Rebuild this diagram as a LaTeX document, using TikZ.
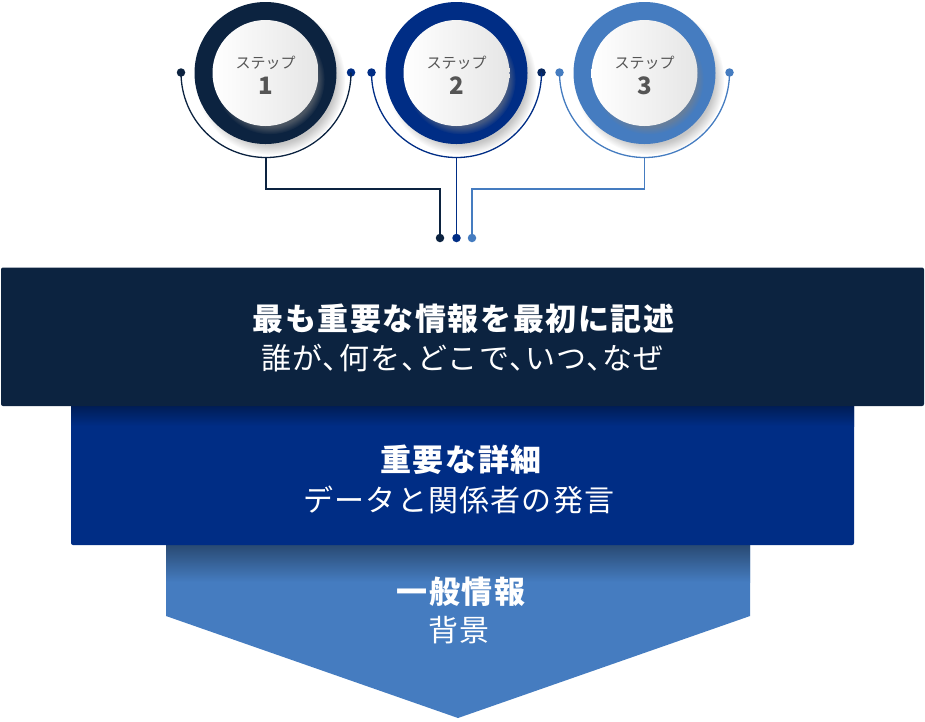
\documentclass[tikz,border=0pt]{standalone}
\usepackage{fontspec}
\setmainfont{Noto Sans CJK JP}
\usetikzlibrary{shadows}
\definecolor{navy}{HTML}{0C2340}
\definecolor{royal}{HTML}{002D85}
\definecolor{sky}{HTML}{457CC0}
\definecolor{stepgray}{HTML}{555555}
\tikzset{
    ringn/.style = {circle, inner sep=0, minimum size=142pt, fill=navy, circular drop shadow={shadow xshift=5pt, shadow yshift=-7pt, shadow scale=1.05, opacity=.45}},
    ringb/.style = {circle, inner sep=0, minimum size=142pt, fill=royal, circular drop shadow={shadow xshift=5pt, shadow yshift=-7pt, shadow scale=1.05, opacity=.45}},
    ringl/.style = {circle, inner sep=0, minimum size=142pt, fill=sky, circular drop shadow={shadow xshift=5pt, shadow yshift=-7pt, shadow scale=1.05, opacity=.45}},
    stepdisc/.style = {circle, inner sep=0, minimum size=106pt, left color=white, right color=gray!20, circular drop shadow={shadow xshift=4pt, shadow yshift=-6pt, shadow scale=1.04, opacity=.55}},
    steptext/.style = {text=stepgray, inner sep=0, font=\fontsize{15}{15}\selectfont},
    stepnum/.style = {text=stepgray, inner sep=0, font=\fontsize{24}{24}\selectfont\bfseries},
    dotn/.style = {circle, inner sep=0, minimum size=8.5pt, fill=navy},
    dotb/.style = {circle, inner sep=0, minimum size=8.5pt, fill=royal},
    dotm/.style = {circle, inner sep=0, minimum size=8.5pt, fill=navy!55!royal},
    dotl/.style = {circle, inner sep=0, minimum size=8.5pt, fill=sky},
    linen/.style = {line width=1.3pt, navy},
    lineb/.style = {line width=1.3pt, royal},
    linel/.style = {line width=1.3pt, sky},
    headtext/.style = {text=white, inner sep=0, font=\fontsize{31}{31}\selectfont\bfseries\addfontfeature{LetterSpace=5}},
    bodytext/.style = {text=white, inner sep=0, font=\fontsize{30}{30}\selectfont\addfontfeature{LetterSpace=4}}
}

\begin{document}
\begin{tikzpicture}[x=1pt, y=-1pt]
\useasboundingbox (0,0) rectangle (925,721);

% panels, lowest first
\fill[sky] (166,540) -- (750,540) -- (750,616) -- (458,718) -- (166,616) -- cycle;
\shade[top color=sky!60!black, bottom color=sky] (166,545) rectangle (750,582);
\fill[royal, rounded corners=2pt] (71,400) rectangle (854,545);
\shade[top color=royal!65!black, bottom color=royal] (71,406) rectangle (854,426);
\fill[navy, rounded corners=2pt] (1,267.5) rectangle (924,406);

\node[headtext] at (463.5,318.5) (h1) {最も重要な情報を最初に記述};
\node[bodytext] at (462.5,358) (b1t) {\addfontfeature{RawFeature=+halt}誰が、何を、どこで、いつ、なぜ};
\node[headtext] at (461,460) (h2) {重要な詳細};
\node[bodytext] at (459,500) (b2t) {データと関係者の発言};
\node[headtext] at (461,591.5) (h3) {一般情報};
\node[bodytext] at (459,630) (b3t) {背景};

% steps
\node[ringn] at (265.5,73) (r1) {};
\node[ringb] at (456.5,73) (r2) {};
\node[ringl] at (644.5,73) (r3) {};
\node[stepdisc] at (r1) (c1) {};
\node[stepdisc] at (r2) (c2) {};
\node[stepdisc] at (r3) (c3) {};
\node[steptext] at (265.5,63) (s1) {ステップ};
\node[stepnum] at (265.5,86) (n1) {1};
\node[steptext] at (456.5,63) (s2) {ステップ};
\node[stepnum] at (456.5,86) (n2) {2};
\node[steptext] at (644.5,63) (s3) {ステップ};
\node[stepnum] at (644.5,86) (n3) {3};

\node[dotn] at (181,72.5) (d1l) {};
\node[dotb] at (351,72.5) (d1r) {};
\node[dotb] at (371.5,72.5) (d2l) {};
\node[dotm] at (541.5,72.5) (d2r) {};
\node[dotl] at (559.5,72.5) (d3l) {};
\node[dotl] at (729.5,72.5) (d3r) {};
\node[dotn] at (440,238) (e1) {};
\node[dotb] at (456.5,238) (e2) {};
\node[dotl] at (472,238) (e3) {};

\coordinate (a1) at (266,157.5);
\coordinate (a2) at (456.5,157.5);
\coordinate (a3) at (644.5,157.5);
\coordinate (k1) at (440,189);
\coordinate (k3) at (472,189);

\draw[linen] (d1l.center) arc[start angle=180, end angle=360, radius=85pt];
\draw[lineb] (d2l.center) arc[start angle=180, end angle=360, radius=85pt];
\draw[linel] (d3l.center) arc[start angle=180, end angle=360, radius=85pt];
\draw[linen] (a1) |- (k1) -- (e1);
\draw[lineb] (a2) -- (e2);
\draw[linel] (a3) |- (k3) -- (e3);

\end{tikzpicture}
\end{document}
